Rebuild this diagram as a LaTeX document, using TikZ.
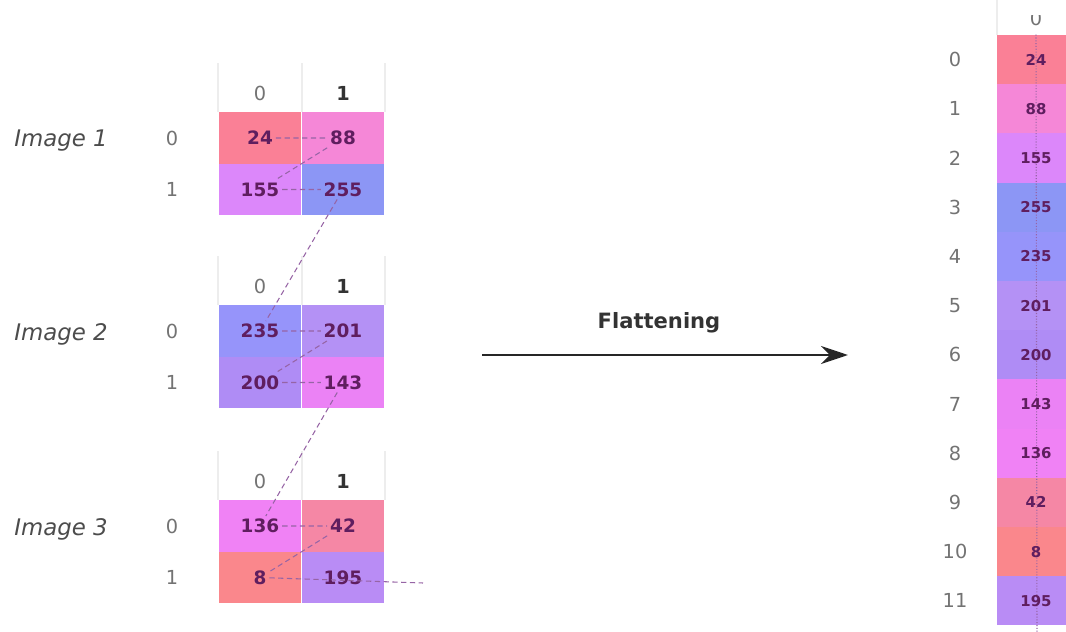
\documentclass[tikz,border=0pt]{standalone}
\usepackage{fontspec}
\setmainfont{DejaVu Sans}
\usepackage{tikz}
\usetikzlibrary{arrows.meta,positioning}
% cell colours, named after the value they hold
\definecolor{v24}{RGB}{250,128,150}
\definecolor{v88}{RGB}{245,135,215}
\definecolor{v155}{RGB}{220,135,250}
\definecolor{v255}{RGB}{140,150,245}
\definecolor{v235}{RGB}{150,148,250}
\definecolor{v201}{RGB}{180,145,245}
\definecolor{v200}{RGB}{175,140,245}
\definecolor{v143}{RGB}{235,130,245}
\definecolor{v136}{RGB}{240,130,245}
\definecolor{v42}{RGB}{245,135,165}
\definecolor{v8}{RGB}{250,135,140}
\definecolor{v195}{RGB}{185,140,245}
\definecolor{numink}{RGB}{95,30,95}
\definecolor{trailink}{RGB}{150,100,165}
\definecolor{labelgray}{RGB}{115,115,115}
\tikzset{
  cell/.style={minimum width=1.66cm,minimum height=1.03cm,inner sep=0pt},
  fcell/.style={minimum width=1.56cm,minimum height=0.984cm,inner sep=0pt},
  num/.style={inner sep=1.5pt,text=numink,font=\bfseries\fontsize{10.5}{12}\selectfont},
  fnum/.style={inner sep=1.5pt,text=numink,font=\bfseries\fontsize{8.5}{10}\selectfont},
  idx/.style={text=labelgray,font=\fontsize{11}{13}\selectfont},
  colhead/.style={text=black!80,font=\bfseries\fontsize{11}{13}\selectfont},
  imglabel/.style={text=black!70,font=\itshape\fontsize{13}{15}\selectfont},
  trail/.style={densely dashed,trailink,line width=0.6pt},
  faint/.style={black!7,line width=0.6pt},
  flow/.style={line width=1.7pt,black!85,-{Stealth[length=5.4mm,width=3.6mm]}}
}
\begin{document}
\begin{tikzpicture}[x=0.02cm,y=-0.02cm]
  \useasboundingbox (0,0) rectangle (1066,632);
  \clip (0,0) rectangle (1066,632);
  % the three 2x2 images
  \foreach \y/\a/\b/\c/\d/\k in {138/24/88/155/255/1,331/235/201/200/143/2,526/136/42/8/195/3}{
    \foreach \x in {218,302,385}{
      \draw[faint] (\x,\y-75) -- (\x,\y-26);
    }
    \node[cell,fill=v\a] (g\a) at (260,\y) {};
    \node[cell,fill=v\b] (g\b) at (343,\y) {};
    \node[cell,fill=v\c] (g\c) at (260,{\y+51.5}) {};
    \node[cell,fill=v\d] (g\d) at (343,{\y+51.5}) {};
    \node[num] (n\a) at (g\a) {\a};
    \node[num] (n\b) at (g\b) {\b};
    \node[num] (n\c) at (g\c) {\c};
    \node[num] (n\d) at (g\d) {\d};
    \node[idx] (hz\k) at (260,\y-45) {0};
    \node[colhead] (ho\k) at (343,\y-45) {1};
    \node[idx] (rz\k) at (172,\y) {0};
    \node[idx] (ro\k) at (172,{\y+51.5}) {1};
    \node[imglabel] (img\k) at (61,\y+3) {Image \k};
  }
  % reading order through the pixels
  \coordinate (tail) at (423,583);
  \draw[trail] (n24) -- (n88) -- (n155) -- (n255) -- (n235) -- (n201) -- (n200)
    -- (n143) -- (n136) -- (n42) -- (n8) -- (tail);
  % flattening arrow
  \coordinate (fs) at (482,355);
  \coordinate (fe) at (848,355);
  \draw[flow] (fs) -- (fe);
  \node[font=\bfseries\fontsize{12}{14}\selectfont,text=black!80] (flat) at (659,323) {Flattening};
  % flattened column
  \draw[faint] (997,0) -- (997,35);
  \begin{scope}
    \clip (990,15) rectangle (1080,40);
    \node[idx] (fh) at (1036,18) {0};
  \end{scope}
  \foreach \v [count=\i from 0] in {24,88,155,255,235,201,200,143,136,42,8,195}{
    \node[fcell,fill=v\v] (fc\i) at (1036,{59.6+49.2*\i}) {};
    \node[idx] (fi\i) at (955,{59.6+49.2*\i}) {\i};
  }
  \coordinate (colbot) at (1037,632);
  \draw[trail,densely dotted] (fc0.north) -- (colbot);
  \foreach \v [count=\i from 0] in {24,88,155,255,235,201,200,143,136,42,8,195}{
    \node[fnum] (fn\i) at (fc\i) {\v};
  }
\end{tikzpicture}
\end{document}
